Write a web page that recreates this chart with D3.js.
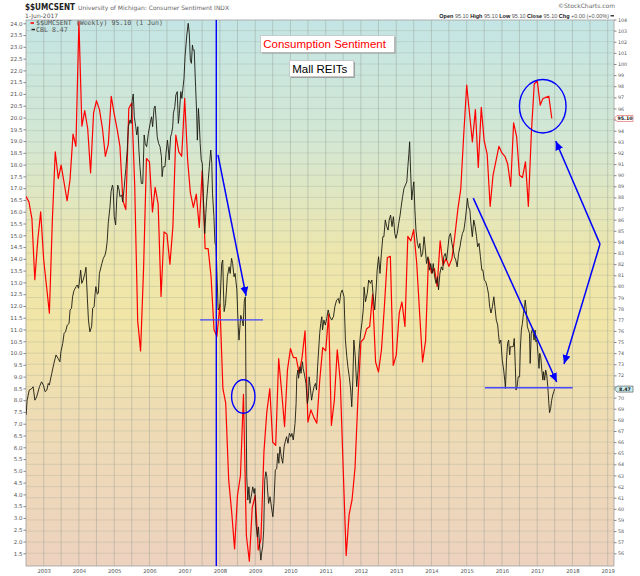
<!DOCTYPE html>
<html>
<head>
<meta charset="utf-8">
<script src="https://d3js.org/d3.v7.min.js"></script>
<style>
  body { margin: 0; background: #fff; }
  svg { display: block; font-family: "DejaVu Sans", sans-serif; }
</style>
</head>
<body>
<svg id="chart" width="640" height="576"></svg>
<script>
// University of Michigan consumer sentiment, monthly, Jul 2002 -> Jun 2017 (right axis)
const sentStart = "2002-07-01";
const sentValues = [
  88.1, 87.6, 86.1, 80.6, 84.2, 86.7,
  82.4, 79.9, 77.6, 86.0, 92.1, 89.7, 90.9, 89.3, 87.7, 89.6, 93.7, 92.6,
  103.8, 94.4, 95.8, 94.2, 90.2, 95.6, 96.7, 95.9, 94.2, 91.7, 92.8, 97.1,
  95.5, 94.1, 92.6, 87.7, 86.9, 96.0, 96.5, 89.1, 76.9, 74.2, 81.6, 91.5,
  91.2, 86.7, 88.9, 87.4, 79.1, 84.9, 84.7, 82.0, 85.4, 93.6, 92.1, 91.7,
  96.9, 91.3, 88.4, 87.1, 88.3, 85.3, 90.4, 83.4, 83.4, 80.9, 76.1, 75.5,
  78.4, 70.8, 69.5, 62.6, 59.8, 56.4, 61.2, 63.0, 70.3, 57.6, 55.3, 60.1,
  61.2, 56.3, 57.3, 65.1, 68.7, 70.8, 66.0, 65.7, 73.5, 70.6, 67.4, 72.5,
  74.4, 73.6, 73.6, 72.2, 73.6, 76.0, 67.8, 68.9, 68.2, 67.7, 71.6, 74.5,
  74.2, 77.5, 67.5, 69.8, 74.3, 71.5, 63.7, 55.8, 59.5, 60.8, 63.7, 69.9,
  75.0, 75.3, 76.2, 76.4, 79.3, 73.2, 72.3, 74.3, 78.3, 82.6, 82.7, 72.9,
  73.8, 77.6, 78.6, 76.4, 84.5, 84.1, 85.1, 82.1, 77.5, 73.2, 75.1, 82.5,
  81.2, 81.6, 80.0, 84.1, 81.9, 82.5, 81.8, 82.5, 84.6, 86.9, 88.8, 93.6,
  98.1, 95.4, 93.0, 95.9, 90.7, 96.1, 93.1, 91.9, 87.2, 90.0, 91.3, 92.6,
  92.0, 91.7, 91.0, 89.0, 94.7, 93.5, 90.0, 89.8, 91.2, 87.2, 93.8, 98.2,
  98.5, 96.3, 96.9, 97.0, 97.1, 95.1
];

// CBL weekly close (left axis), [decimal year, price]
const cblSeries = [
  [2002.50,7.37],[2002.53,8.0],[2002.59,8.43],[2002.66,8.49],[2002.70,8.57],[2002.75,8.0],[2002.80,8.14],[2002.88,8.57],
  [2002.94,8.78],[2002.99,8.64],[2003.04,8.36],[2003.09,8.43],[2003.13,8.71],[2003.16,8.64],[2003.23,9.14],[2003.29,9.56],
  [2003.35,9.92],[2003.41,9.77],[2003.46,9.63],[2003.49,10.06],[2003.54,10.41],[2003.58,10.84],[2003.62,10.90],[2003.67,11.19],
  [2003.72,11.26],[2003.75,11.83],[2003.79,11.9],[2003.82,12.39],[2003.86,12.65],[2003.92,12.82],[2003.95,12.89],[2003.99,12.75],
  [2004.03,13.24],[2004.05,13.52],[2004.08,12.96],[2004.12,13.1],[2004.17,13.38],[2004.20,13.64],[2004.24,12.3],[2004.27,11.4],
  [2004.31,10.9],[2004.36,11.12],[2004.39,11.9],[2004.43,11.97],[2004.46,12.54],[2004.48,12.82],[2004.52,12.5],[2004.55,12.54],
  [2004.58,13.38],[2004.65,13.8],[2004.69,14.02],[2004.74,14.16],[2004.77,14.37],[2004.80,14.73],[2004.83,15.51],[2004.88,16.21],
  [2004.91,16.85],[2004.95,17.13],[2004.97,16.99],[2005.00,15.79],[2005.04,15.44],[2005.07,16.5],[2005.10,17.13],[2005.14,16.92],
  [2005.16,16.64],[2005.21,16.71],[2005.24,16.42],[2005.28,16.99],[2005.31,17.49],[2005.33,17.84],[2005.37,18.62],[2005.40,19.61],
  [2005.45,19.9],[2005.48,19.75],[2005.51,20.74],[2005.54,21.0],[2005.57,20.03],[2005.61,19.61],[2005.64,19.26],[2005.67,19.61],
  [2005.70,18.62],[2005.73,17.91],[2005.77,17.2],[2005.81,17.2],[2005.85,19.26],[2005.88,18.9],[2005.92,18.76],[2005.97,19.33],
  [2006.02,19.75],[2006.06,20.03],[2006.09,19.61],[2006.13,20.39],[2006.16,20.49],[2006.19,19.9],[2006.22,19.18],[2006.26,18.9],
  [2006.30,18.76],[2006.34,18.34],[2006.36,17.49],[2006.39,17.91],[2006.44,17.91],[2006.47,18.48],[2006.51,19.04],[2006.53,18.76],
  [2006.56,18.2],[2006.60,19.18],[2006.63,19.33],[2006.66,19.61],[2006.68,20.18],[2006.72,20.46],[2006.75,20.96],[2006.79,21.1],
  [2006.82,19.75],[2006.85,20.18],[2006.89,21.1],[2006.92,20.81],[2006.95,21.24],[2006.98,21.66],[2007.01,22.58],[2007.06,23.5],
  [2007.10,24.0],[2007.13,23.58],[2007.16,22.44],[2007.19,22.3],[2007.22,23.08],[2007.24,22.87],[2007.27,22.87],[2007.31,21.31],
  [2007.34,20.18],[2007.36,19.04],[2007.39,20.39],[2007.41,19.9],[2007.44,18.9],[2007.47,18.2],[2007.50,18.05],[2007.53,16.64],
  [2007.57,15.08],[2007.60,15.93],[2007.62,16.42],[2007.67,17.35],[2007.70,17.91],[2007.74,18.62],[2007.77,18.05],[2007.79,16.77],
  [2007.83,15.79],[2007.86,14.66],[2007.89,14.59],[2007.95,11.83],[2008.00,11.97],[2008.05,13.8],[2008.08,13.95],[2008.10,12.68],
  [2008.12,11.76],[2008.16,12.11],[2008.21,13.24],[2008.26,13.66],[2008.29,13.38],[2008.33,14.02],[2008.36,13.8],[2008.40,13.24],
  [2008.43,13.38],[2008.48,12.68],[2008.50,11.83],[2008.52,11.1],[2008.54,10.55],[2008.59,11.6],[2008.63,11.4],[2008.66,11.15],
  [2008.69,12.2],[2008.72,12.39],[2008.74,8.0],[2008.76,4.75],[2008.79,3.76],[2008.82,4.32],[2008.85,3.62],[2008.90,4.04],
  [2008.93,4.32],[2008.97,4.04],[2008.99,4.25],[2009.02,2.77],[2009.06,2.2],[2009.09,2.62],[2009.12,1.92],[2009.16,1.21],
  [2009.18,1.5],[2009.21,1.77],[2009.24,2.48],[2009.27,4.6],[2009.30,4.96],[2009.33,4.75],[2009.35,4.18],[2009.38,3.62],
  [2009.42,3.9],[2009.46,3.47],[2009.50,3.05],[2009.53,3.62],[2009.57,5.03],[2009.61,5.1],[2009.64,5.74],[2009.67,5.32],
  [2009.70,6.02],[2009.74,5.6],[2009.78,5.32],[2009.82,6.02],[2009.85,6.23],[2009.89,6.45],[2009.93,6.17],[2009.97,6.59],
  [2010.01,6.45],[2010.04,6.59],[2010.08,6.31],[2010.13,7.01],[2010.16,7.86],[2010.18,8.99],[2010.21,9.28],[2010.23,8.93],
  [2010.27,9.42],[2010.30,9.14],[2010.34,9.63],[2010.36,9.35],[2010.40,9.07],[2010.44,8.71],[2010.48,7.86],[2010.51,8.14],
  [2010.53,8.99],[2010.57,8.43],[2010.60,8.0],[2010.63,8.29],[2010.67,8.57],[2010.71,8.71],[2010.74,8.43],[2010.77,9.42],
  [2010.80,10.13],[2010.83,10.84],[2010.86,11.26],[2010.89,11.54],[2010.91,10.98],[2010.95,11.4],[2010.99,11.19],[2011.03,11.47],
  [2011.07,11.83],[2011.12,11.54],[2011.17,11.4],[2011.22,11.54],[2011.26,11.97],[2011.31,12.25],[2011.36,12.32],[2011.39,12.11],
  [2011.43,12.54],[2011.47,12.68],[2011.52,12.39],[2011.56,10.55],[2011.60,9.84],[2011.63,9.42],[2011.67,8.99],[2011.71,8.43],
  [2011.74,7.72],[2011.77,8.85],[2011.80,10.55],[2011.84,9.84],[2011.88,8.57],[2011.92,9.28],[2011.95,10.13],[2011.99,10.84],
  [2012.03,11.3],[2012.07,11.9],[2012.09,12.8],[2012.13,12.18],[2012.18,12.54],[2012.22,13.1],[2012.27,12.96],[2012.31,13.1],
  [2012.35,12.39],[2012.39,11.83],[2012.43,12.68],[2012.46,13.52],[2012.50,14.09],[2012.54,13.38],[2012.58,14.23],[2012.62,14.94],
  [2012.65,14.94],[2012.69,15.65],[2012.73,15.37],[2012.77,15.22],[2012.80,15.65],[2012.84,15.86],[2012.88,15.37],[2012.92,15.79],
  [2012.96,15.08],[2012.99,14.87],[2013.03,15.08],[2013.07,15.51],[2013.11,15.86],[2013.14,16.21],[2013.18,16.64],[2013.22,16.99],
  [2013.26,17.13],[2013.30,17.27],[2013.33,17.91],[2013.36,18.48],[2013.38,18.97],[2013.41,17.63],[2013.44,16.5],[2013.48,17.06],
  [2013.50,17.27],[2013.53,16.07],[2013.56,15.22],[2013.60,14.66],[2013.64,14.45],[2013.67,14.66],[2013.71,14.09],[2013.75,14.23],
  [2013.79,14.94],[2013.82,14.51],[2013.86,13.8],[2013.90,14.09],[2013.94,13.52],[2013.98,13.8],[2014.02,13.38],[2014.05,13.8],
  [2014.09,13.24],[2014.13,12.96],[2014.17,13.24],[2014.20,12.68],[2014.24,13.38],[2014.28,13.66],[2014.32,13.52],[2014.35,14.09],
  [2014.39,14.23],[2014.43,13.95],[2014.47,14.51],[2014.50,14.94],[2014.54,15.08],[2014.58,14.66],[2014.62,14.37],[2014.65,14.09],
  [2014.69,13.95],[2014.73,13.66],[2014.77,14.23],[2014.81,14.51],[2014.84,14.8],[2014.88,15.08],[2014.92,15.22],[2014.96,15.65],
  [2014.99,16.07],[2015.02,16.57],[2015.05,16.21],[2015.09,16.07],[2015.12,15.51],[2015.16,14.94],[2015.20,15.65],[2015.24,15.37],
  [2015.28,14.94],[2015.31,14.51],[2015.35,14.66],[2015.39,14.09],[2015.43,13.52],[2015.46,13.52],[2015.50,13.1],[2015.54,13.03],
  [2015.58,12.82],[2015.62,12.5],[2015.65,12.0],[2015.69,11.7],[2015.73,11.97],[2015.77,12.39],[2015.80,11.97],[2015.84,11.4],
  [2015.88,11.19],[2015.90,10.84],[2015.93,10.41],[2015.97,10.55],[2016.01,9.7],[2016.05,9.28],[2016.08,8.85],[2016.10,8.5],
  [2016.13,9.7],[2016.16,10.41],[2016.19,10.55],[2016.22,9.92],[2016.24,10.27],[2016.28,10.27],[2016.32,10.27],[2016.35,10.62],
  [2016.38,9.42],[2016.40,8.43],[2016.43,8.57],[2016.46,8.99],[2016.50,8.99],[2016.52,10.13],[2016.55,10.98],[2016.58,11.26],
  [2016.61,11.68],[2016.64,11.97],[2016.66,12.25],[2016.69,11.83],[2016.72,11.12],[2016.75,10.98],[2016.78,10.84],[2016.80,9.56],
  [2016.83,10.84],[2016.87,11.05],[2016.91,10.55],[2016.94,10.98],[2016.96,10.48],[2016.99,10.55],[2017.02,9.99],[2017.05,9.35],
  [2017.07,9.99],[2017.10,9.84],[2017.13,9.28],[2017.16,8.85],[2017.18,9.21],[2017.21,8.85],[2017.24,9.28],[2017.27,9.07],
  [2017.30,8.57],[2017.33,7.86],[2017.35,7.47],[2017.38,7.65],[2017.41,8.0],[2017.44,8.22],[2017.47,8.36],[2017.49,8.47]
];

const yearLabels = d3.range(2003, 2020);
const leftTicks = d3.range(1.5, 24.01, 0.5);
const rightTicks = d3.range(56, 104.5, 1);

// hand-drawn annotations, in data units (L = CBL axis, R = sentiment axis)
const annoVertical = 2007.897;
const annoLevels = [
  { from: 2007.434, to: 2009.221, cbl: 11.41 },
  { from: 2015.519, to: 2018.007, cbl: 8.53 }
];
const annoRings = [
  { t: 2008.662, sent: 70.1, rx: 11.7, ry: 16.7 },
  { t: 2017.156, sent: 96.2, rx: 23.3, ry: 26.7 }
];
const annoArrows = [
  { t0: 2007.945, v0: 18.41, t1: 2008.74, v1: 12.43, axis: "L" },
  { t0: 2015.187, v0: 16.58, t1: 2017.553, v1: 8.77, axis: "L" },
  { t0: 2018.782, v0: 83.8, t1: 2017.525, v1: 93.07, axis: "R" },
  { t0: 2018.782, v0: 83.8, t1: 2017.76, v1: 73.02, axis: "R" }
];

const yearToDate = (y) => {
  const yr = Math.floor(y);
  const a = new Date(yr, 0, 1), b = new Date(yr + 1, 0, 1);
  return new Date(+a + (y - yr) * (b - a));
};

const pL = 26, pR = 614, pT = 20, pB = 566;
const svg = d3.select("#chart");

const x = d3.scaleTime()
  .domain([yearToDate(2002.498), yearToDate(2019.179)])
  .range([pL, pR]);
const yL = d3.scaleLinear().domain([0.96, 24.14]).range([pB, pT]);
const yR = d3.scaleLinear().domain([54.86, 103.955]).range([pB, pT]);

const sentData = sentValues.map((v, i) => ({
  date: d3.timeMonth.offset(new Date(sentStart + "T00:00:00"), i),
  value: v
}));
const cblData = cblSeries.map(([t, v]) => ({ date: yearToDate(t), value: v }));
const lastSent = sentValues[sentValues.length - 1];
const lastCbl = cblSeries[cblSeries.length - 1][1];

// background gradient
const defs = svg.append("defs");
const grad = defs.append("linearGradient")
  .attr("id", "bg").attr("x1", 0).attr("y1", 0).attr("x2", 0).attr("y2", 1);
[["0%", "#c4e5e4"], ["22%", "#d3e7d3"], ["42%", "#ece6ae"], ["55%", "#f1e5a6"],
 ["72%", "#eedcb4"], ["100%", "#edd2bf"]]
  .forEach(([o, c]) => grad.append("stop").attr("offset", o).attr("stop-color", c));

defs.append("clipPath").attr("id", "plotclip")
  .append("rect").attr("x", pL).attr("y", pT)
  .attr("width", pR - pL).attr("height", pB - pT);

const marker = defs.append("marker")
  .attr("id", "arrow").attr("markerUnits", "userSpaceOnUse")
  .attr("markerWidth", 10).attr("markerHeight", 10)
  .attr("refX", 9).attr("refY", 4).attr("orient", "auto");
marker.append("path").attr("d", "M0,0 L9,4 L0,8 Z").attr("fill", "#0000ff");

svg.append("rect")
  .attr("x", pL).attr("y", pT)
  .attr("width", pR - pL).attr("height", pB - pT)
  .attr("fill", "url(#bg)");

// grid
const grid = svg.append("g").attr("clip-path", "url(#plotclip)");
grid.selectAll(".hg").data(rightTicks).join("line")
  .attr("x1", pL).attr("x2", pR)
  .attr("y1", (d) => yR(d)).attr("y2", (d) => yR(d))
  .attr("stroke", "#8f9a8f").attr("stroke-opacity", 0.3).attr("stroke-width", 0.8);
grid.selectAll(".vg").data(d3.timeMonth.every(6).range(x.domain()[0], x.domain()[1])).join("line")
  .attr("x1", (d) => x(d)).attr("x2", (d) => x(d))
  .attr("y1", pT).attr("y2", pB)
  .attr("stroke", "#8f9a8f").attr("stroke-opacity", 0.45).attr("stroke-width", 0.9);

svg.append("rect")
  .attr("x", pL).attr("y", pT)
  .attr("width", pR - pL).attr("height", pB - pT)
  .attr("fill", "none").attr("stroke", "#a0a0a0").attr("stroke-width", 0.8);

// axes
const styleAxis = (g, size) => {
  g.select(".domain").remove();
  g.selectAll(".tick line").attr("stroke", "#888");
  g.selectAll(".tick text").attr("fill", "#555").attr("font-size", size)
    .attr("font-family", "DejaVu Sans, sans-serif");
};
svg.append("g").attr("transform", `translate(${pL},0)`)
  .call(d3.axisLeft(yL).tickValues(leftTicks).tickFormat(d3.format(".1f")).tickSize(2.5).tickPadding(1))
  .call((g) => styleAxis(g, 5.5));

// right labels hidden where the last-value tags sit on top of them
const tagYs = [yR(lastSent), yL(lastCbl)];
svg.append("g").attr("transform", `translate(${pR},0)`)
  .call(d3.axisRight(yR).tickValues(rightTicks).tickFormat(d3.format("d")).tickSize(2.5).tickPadding(1.5))
  .call((g) => styleAxis(g, 4.8))
  .call((g) => g.selectAll(".tick text")
    .filter((d) => tagYs.some((ty) => Math.abs(yR(d) - ty) < 5))
    .remove());
svg.append("g").attr("transform", `translate(0,${pB})`)
  .call(d3.axisBottom(x).tickValues(yearLabels.map((y) => new Date(y, 0, 1)))
    .tickFormat(d3.timeFormat("%Y")).tickSize(0).tickPadding(3.5))
  .call((g) => styleAxis(g, 5.3));

// series
const lines = svg.append("g").attr("clip-path", "url(#plotclip)");
lines.append("path").datum(sentData)
  .attr("fill", "none").attr("stroke", "#ff0000").attr("stroke-width", 1.2)
  .attr("stroke-linejoin", "round")
  .attr("d", d3.line().x((d) => x(d.date)).y((d) => yR(d.value)));
lines.append("path").datum(cblData)
  .attr("fill", "none").attr("stroke", "#1a1a10").attr("stroke-width", 0.9)
  .attr("stroke-linejoin", "round")
  .attr("d", d3.line().x((d) => x(d.date)).y((d) => yL(d.value)));

// annotations
const anno = svg.append("g").attr("clip-path", "url(#plotclip)");
anno.append("line")
  .attr("x1", x(yearToDate(annoVertical))).attr("x2", x(yearToDate(annoVertical)))
  .attr("y1", pT).attr("y2", pB)
  .attr("stroke", "#0000ff").attr("stroke-width", 1.4);
anno.selectAll(".lvl").data(annoLevels).join("line")
  .attr("x1", (d) => x(yearToDate(d.from))).attr("x2", (d) => x(yearToDate(d.to)))
  .attr("y1", (d) => yL(d.cbl)).attr("y2", (d) => yL(d.cbl))
  .attr("stroke", "#4848ff").attr("stroke-width", 1.4);
anno.selectAll(".ring").data(annoRings).join("ellipse")
  .attr("cx", (d) => x(yearToDate(d.t))).attr("cy", (d) => yR(d.sent))
  .attr("rx", (d) => d.rx).attr("ry", (d) => d.ry)
  .attr("fill", "none").attr("stroke", "#0000ff").attr("stroke-width", 1.4);
anno.selectAll(".arr").data(annoArrows).join("line")
  .attr("x1", (d) => x(yearToDate(d.t0))).attr("x2", (d) => x(yearToDate(d.t1)))
  .attr("y1", (d) => (d.axis === "L" ? yL : yR)(d.v0))
  .attr("y2", (d) => (d.axis === "L" ? yL : yR)(d.v1))
  .attr("stroke", "#0000ff").attr("stroke-width", 1.5)
  .attr("marker-end", "url(#arrow)");

// text boxes
const boxes = [
  { x: 260.7, y: 35.7, w: 133.6, h: 16.6, text: "Consumption Sentiment", color: "#ff0000" },
  { x: 289.7, y: 60.7, w: 64, h: 16, text: "Mall REITs", color: "#000" }
];
const bx = svg.append("g");
bx.selectAll(".shadow").data(boxes).join("rect")
  .attr("x", (d) => d.x + 1.2).attr("y", (d) => d.y + 1.2)
  .attr("width", (d) => d.w).attr("height", (d) => d.h)
  .attr("fill", "#9a9a9a");
bx.selectAll(".box").data(boxes).join("rect")
  .attr("x", (d) => d.x).attr("y", (d) => d.y)
  .attr("width", (d) => d.w).attr("height", (d) => d.h)
  .attr("fill", "#fff").attr("stroke", "#b8b8b8").attr("stroke-width", 0.6);
bx.selectAll("text").data(boxes).join("text")
  .attr("x", (d) => d.x + 2.5).attr("y", (d) => d.y + d.h / 2 + 4)
  .attr("fill", (d) => d.color)
  .attr("font-family", "Liberation Sans, Arial, sans-serif").attr("font-size", 11.5)
  .text((d) => d.text);

// legend
const leg = svg.append("g").attr("font-family", "DejaVu Sans Mono, monospace")
  .attr("font-size", 6.6).attr("fill", "#555");
leg.append("line").attr("x1", 30.5).attr("x2", 34).attr("y1", 23).attr("y2", 23)
  .attr("stroke", "#ff0000").attr("stroke-width", 1.6);
leg.append("text").attr("x", 36).attr("y", 25.3).text("$$UMCSENT (Weekly) 95.10 (1 Jun)");
leg.append("line").attr("x1", 31.5).attr("x2", 35).attr("y1", 29.5).attr("y2", 29.5)
  .attr("stroke", "#222").attr("stroke-width", 1.4);
leg.append("text").attr("x", 36).attr("y", 31.8).text("CBL 8.47");

// last value tags
const tag = (y, label, fill, stroke) => {
  const g = svg.append("g");
  g.append("path")
    .attr("d", `M${pR + 0.5},${y} L${pR + 3},${y - 3} H${pR + 19} V${y + 3} H${pR + 3} Z`)
    .attr("fill", fill).attr("stroke", stroke).attr("stroke-width", 0.6);
  g.append("text").attr("x", pR + 11).attr("y", y + 1.8)
    .attr("text-anchor", "middle").attr("font-size", 4.8).attr("font-weight", "bold")
    .attr("fill", "#111").text(label);
};
tag(yR(lastSent), "95.10", "#fff", "#e05050");
tag(yL(lastCbl), "8.47", "#cdeff0", "#444");

// header
const hdr = svg.append("g");
hdr.append("text").attr("x", 25).attr("y", 10)
  .attr("font-family", "DejaVu Sans Condensed, DejaVu Sans, sans-serif")
  .attr("font-weight", "bold").attr("font-size", 8.2).attr("fill", "#222")
  .attr("textLength", 50).attr("lengthAdjust", "spacingAndGlyphs")
  .text("$$UMCSENT");
hdr.append("text").attr("x", 78).attr("y", 10)
  .attr("font-size", 6).attr("fill", "#666")
  .text("University of Michigan: Consumer Sentiment INDX");
hdr.append("text").attr("x", 25).attr("y", 17.5)
  .attr("font-size", 6).attr("fill", "#555").text("1-Jun-2017");
hdr.append("text").attr("x", 615).attr("y", 8).attr("text-anchor", "end")
  .attr("font-size", 6).attr("fill", "#666").text("\u00a9StockCharts.com");

const quote = [["Open", "95.10"], ["High", "95.10"], ["Low", "95.10"], ["Close", "95.10"], ["Chg", "+0.00 (+0.00%)"]];
const qt = hdr.append("text").attr("x", 609).attr("y", 17.5).attr("text-anchor", "end")
  .attr("font-family", "Liberation Sans, Arial, sans-serif").attr("font-size", 5.5);
quote.forEach(([k, v], i) => {
  qt.append("tspan").attr("font-weight", "bold").attr("fill", "#111").text((i ? "  " : "") + k + " ");
  qt.append("tspan").attr("fill", "#555").text(v);
});
hdr.append("line").attr("x1", 610.5).attr("x2", 614).attr("y1", 15.8).attr("y2", 15.8)
  .attr("stroke", "#111").attr("stroke-width", 1.2);
</script>
</body>
</html>
